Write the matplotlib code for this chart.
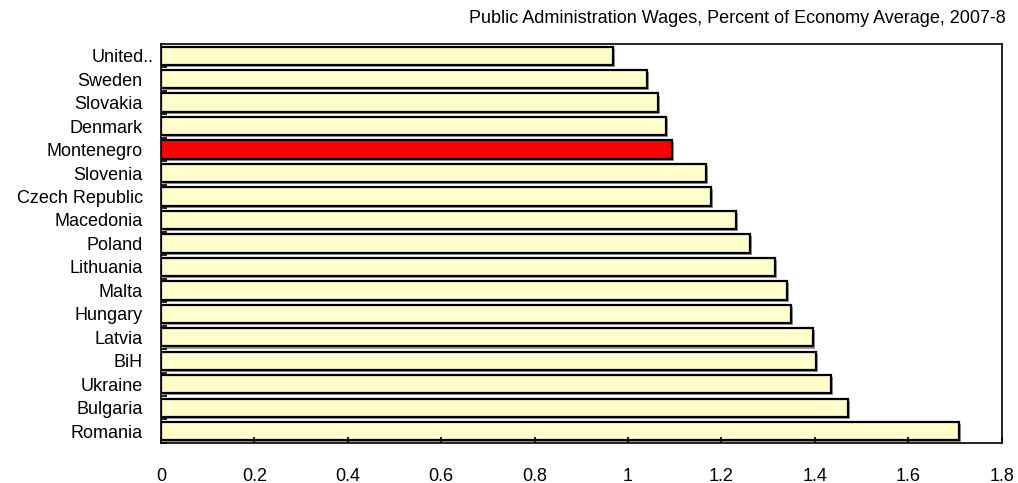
import numpy as np
import matplotlib
matplotlib.use('Agg')
import matplotlib.pyplot as plt
import matplotlib.patheffects as pe

plt.rcParams['font.family'] = ['Liberation Sans', 'DejaVu Sans']

# countries from top to bottom, as shown in the chart
countries = ['United..', 'Sweden', 'Slovakia', 'Denmark', 'Montenegro', 'Slovenia',
             'Czech Republic', 'Macedonia', 'Poland', 'Lithuania', 'Malta', 'Hungary',
             'Latvia', 'BiH', 'Ukraine', 'Bulgaria', 'Romania']
wages = [0.968, 1.041, 1.064, 1.081, 1.094, 1.167, 1.177, 1.232, 1.262,
         1.314, 1.340, 1.349, 1.395, 1.403, 1.434, 1.470, 1.708]
highlight = 'Montenegro'

fig = plt.figure(figsize=(10.18, 4.83), dpi=100)
ax = fig.add_axes([0.158, 0.083, 0.826, 0.826])

y = np.arange(len(countries))[::-1]
colors = ['#FF0000' if c == highlight else '#FFFFCC' for c in countries]
shadow = [pe.SimplePatchShadow(offset=(1.5, -1.5), shadow_rgbFace='#808080', alpha=0.8), pe.Normal()]
bars = ax.barh(y, wages, height=0.78, color=colors, edgecolor='black', linewidth=1.6)
for b in bars:
    b.set_path_effects(shadow)

ax.set_xlim(0, 1.8)
ax.set_ylim(-0.5, len(countries) - 0.5)
ax.set_xticks(np.arange(0, 1.81, 0.2))
ax.set_xticklabels(['0', '0.2', '0.4', '0.6', '0.8', '1', '1.2', '1.4', '1.6', '1.8'])
ax.set_yticks(y)
ax.set_yticklabels(countries)
ax.set_yticks(np.arange(-0.5, len(countries) - 0.5, 1.0), minor=True)

ax.tick_params(axis='x', direction='in', length=4, width=1.2, pad=18, labelsize=13)
ax.tick_params(axis='y', which='major', length=0, pad=13, labelsize=13)
ax.tick_params(axis='y', which='minor', direction='in', length=4, width=1.2)
for s in ax.spines.values():
    s.set_linewidth(1.2)

# the truncated label sits right against the axis
ax.get_yticklabels()[0].set_x(0.013)

fig.text(0.724, 0.962, 'Public Administration Wages, Percent of Economy Average, 2007-8',
         ha='center', va='center', fontsize=13)

fig.savefig('out.png', dpi=100)
